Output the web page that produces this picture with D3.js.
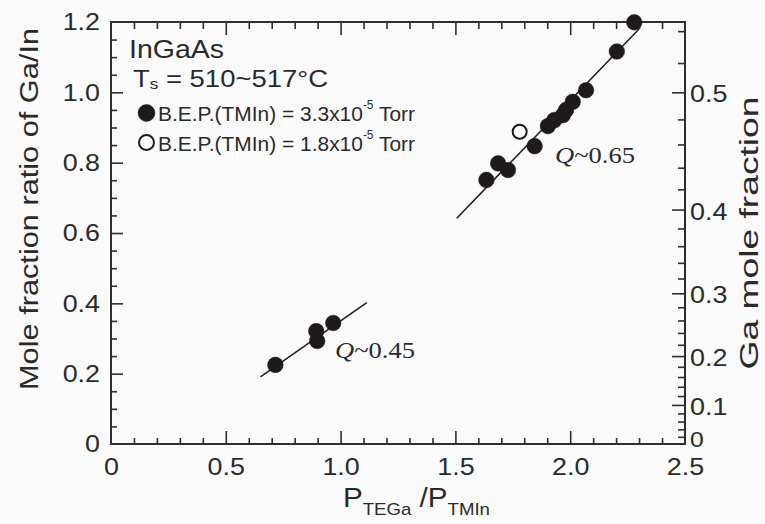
<!DOCTYPE html>
<html><head><meta charset="utf-8">
<script src="https://cdn.jsdelivr.net/npm/d3@7"></script>
<style>
html,body{margin:0;padding:0;background:#fafafa;}
svg{display:block;}
</style></head>
<body>
<svg id="c" width="765" height="524" font-family="Liberation Sans, Arial, sans-serif" fill="#2a2a2a"></svg>
<script>
// ---- data ----
const filledX = [0.716, 0.894, 0.898, 0.968, 1.635, 1.686, 1.729, 1.845, 1.903, 1.931, 1.968, 1.982, 2.011, 2.069, 2.203, 2.279];
const filledY = [0.225, 0.321, 0.293, 0.344, 0.751, 0.798, 0.779, 0.847, 0.904, 0.921, 0.935, 0.950, 0.973, 1.006, 1.116, 1.199];
const openX = [1.78];
const openY = [0.888];
const fitLowX = [0.651, 1.114];
const fitLowY = [0.191, 0.402];
const fitHighX = [1.506, 2.30];
const fitHighY = [0.642, 1.18];
const xTicks = [0, 0.5, 1.0, 1.5, 2.0, 2.5];
const xTickLabels = ["0", "0.5", "1.0", "1.5", "2.0", "2.5"];
const yTicks = [0, 0.2, 0.4, 0.6, 0.8, 1.0, 1.2];
const yTickLabels = ["0", "0.2", "0.4", "0.6", "0.8", "1.0", "1.2"];
const rTicks = [0, 0.1, 0.2, 0.3, 0.4, 0.5];
const rTickLabels = ["0", "0.1", "0.2", "0.3", "0.4", "0.5"];

// ---- layout ----
const svg = d3.select("#c");
const L = 111, R = 685, T = 22, B = 444;
const x = d3.scaleLinear().domain([0, 2.5]).range([L, R]);
const y = d3.scaleLinear().domain([0, 1.2]).range([B, T]);
// right axis: Ga mole fraction f = r/(1+r)  ->  r = f/(1-f)
const fracToY = f => y(f / (1 - f));
const rightScale = Object.assign(v => fracToY(v), {
  range: () => [B, T], domain: () => [0, 0.545], copy: function(){return this;}, ticks: () => rTicks
});

svg.append("rect").attr("width", 765).attr("height", 524).attr("fill", "#fafafa");

const stroke = "#2e2e2e";
const tickFont = 24;
function stretch(sel, k) {
  sel.each(function(){ const w = this.getComputedTextLength(); this.setAttribute("textLength", w * k); this.setAttribute("lengthAdjust", "spacingAndGlyphs"); });
}

// minor ticks
const xMinor = d3.range(1, 25).map(i => i / 10).filter(v => Math.abs(v * 2 - Math.round(v * 2)) > 1e-6);
const yMinor = d3.range(1, 24).map(i => i / 20).filter(v => Math.abs(v * 5 - Math.round(v * 5)) > 1e-6);
const rMinor = d3.range(1, 28).map(i => i / 50).filter(v => Math.abs(v * 10 - Math.round(v * 10)) > 1e-6);

function styleAxis(g) {
  g.select(".domain").remove();
  g.selectAll("line").attr("stroke", stroke).attr("stroke-width", 1.6);
  g.selectAll("text").attr("font-family", "Liberation Sans, Arial, sans-serif").attr("font-size", tickFont).attr("fill", "#2a2a2a");
}

// bottom
const gB = svg.append("g").attr("transform", `translate(0,${B})`)
  .call(d3.axisBottom(x).tickValues(xTicks).tickFormat((d, i) => xTickLabels[i]).tickSize(-13).tickPadding(14));
styleAxis(gB);
gB.selectAll(".tick").filter(d => d === 0 || d === 2.5).select("line").remove();
stretch(gB.selectAll("text"), 1.12);
const gBm = svg.append("g").attr("transform", `translate(0,${B})`)
  .call(d3.axisBottom(x).tickValues(xMinor).tickFormat("").tickSize(-6));
styleAxis(gBm);
// top
const gT = svg.append("g").attr("transform", `translate(0,${T})`)
  .call(d3.axisTop(x).tickValues(xTicks.slice(1, -1)).tickFormat("").tickSize(-13));
styleAxis(gT);
const gTm = svg.append("g").attr("transform", `translate(0,${T})`)
  .call(d3.axisTop(x).tickValues(xMinor).tickFormat("").tickSize(-7));
styleAxis(gTm);
// left
const gL = svg.append("g").attr("transform", `translate(${L},0)`)
  .call(d3.axisLeft(y).tickValues(yTicks).tickFormat((d, i) => yTickLabels[i]).tickSize(-12).tickPadding(11));
styleAxis(gL);
gL.selectAll(".tick").filter(d => d === 0 || d === 1.2).select("line").remove();
stretch(gL.selectAll("text"), 1.12);
const gLm = svg.append("g").attr("transform", `translate(${L},0)`)
  .call(d3.axisLeft(y).tickValues(yMinor).tickFormat("").tickSize(-6));
styleAxis(gLm);
// right (Ga mole fraction)
const gR = svg.append("g").attr("transform", `translate(${R},0)`)
  .call(d3.axisRight(rightScale).tickValues(rTicks).tickFormat((d, i) => rTickLabels[i]).tickSize(-13).tickPadding(5));
styleAxis(gR);
gR.selectAll(".tick").filter(d => d === 0).select("line").remove();
gR.selectAll("text").attr("dy", "0.4em");
gR.selectAll(".tick").filter(d => d === 0).select("text").attr("dy", "0.1em").attr("font-size", 22);
stretch(gR.selectAll("text"), 1.12);
const gRm = svg.append("g").attr("transform", `translate(${R},0)`)
  .call(d3.axisRight(rightScale).tickValues(rMinor).tickFormat("").tickSize(-7));
styleAxis(gRm);

// frame
svg.append("rect").attr("x", L).attr("y", T).attr("width", R - L).attr("height", B - T)
  .attr("fill", "none").attr("stroke", stroke).attr("stroke-width", 2);

// fit lines
const line = d3.line().x(d => x(d[0])).y(d => y(d[1]));
[[fitLowX, fitLowY], [fitHighX, fitHighY]].forEach(([xs, ys]) => {
  svg.append("path").datum(xs.map((v, i) => [v, ys[i]])).attr("d", line)
    .attr("fill", "none").attr("stroke", "#222").attr("stroke-width", 1.6);
});

// points
svg.append("g").selectAll("circle").data(filledX.map((v, i) => [v, filledY[i]])).join("circle")
  .attr("cx", d => x(d[0])).attr("cy", d => y(d[1])).attr("r", 7.8)
  .attr("fill", "#1e1a1a").attr("stroke", "#1e1a1a").attr("stroke-width", 0.5);
svg.append("g").selectAll("circle").data(openX.map((v, i) => [v, openY[i]])).join("circle")
  .attr("cx", d => x(d[0])).attr("cy", d => y(d[1])).attr("r", 7)
  .attr("fill", "#fafafa").attr("stroke", "#1e1a1a").attr("stroke-width", 2);

// Q labels
function qLabel(px, py, val) {
  const t = svg.append("text").attr("x", px).attr("y", py)
    .attr("font-family", "Liberation Serif, Times New Roman, serif").attr("font-size", 23).attr("fill", "#2a2a2a");
  t.append("tspan").attr("font-style", "italic").text("Q");
  t.append("tspan").text("~" + val);
  t.attr("textLength", 80).attr("lengthAdjust", "spacingAndGlyphs");
}
qLabel(555, 163, "0.65");
qLabel(335, 358, "0.45");

// legend block
svg.append("text").attr("x", 129).attr("y", 58).attr("font-size", 26).text("InGaAs")
  .attr("textLength", 95).attr("lengthAdjust", "spacingAndGlyphs");
const ts = svg.append("text").attr("x", 133).attr("y", 87).attr("font-size", 24);
ts.append("tspan").text("T");
ts.append("tspan").attr("font-size", 15).attr("dy", 2).text("s");
ts.append("tspan").attr("dy", -2).text(" = 510~517°C");
ts.attr("textLength", 195).attr("lengthAdjust", "spacingAndGlyphs");

function legendRow(cy, filled, val) {
  svg.append("circle").attr("cx", 146.5).attr("cy", cy).attr("r", filled ? 8.5 : 7.5)
    .attr("fill", filled ? "#1e1a1a" : "#fafafa").attr("stroke", "#1e1a1a").attr("stroke-width", filled ? 0.5 : 2);
  const t = svg.append("text").attr("x", 158).attr("y", cy + 8).attr("font-size", 21);
  t.append("tspan").text("B.E.P.(TMIn) = " + val + "x10");
  t.append("tspan").attr("font-size", 12).attr("dy", -12).text("-5");
  t.append("tspan").attr("dy", 12).text(" Torr");
  t.attr("textLength", 257).attr("lengthAdjust", "spacingAndGlyphs");
}
legendRow(113, true, "3.3");
legendRow(142.5, false, "1.8");

// axis titles
svg.append("text").attr("transform", "translate(38,209) rotate(-90)").attr("text-anchor", "middle")
  .attr("font-size", 26).text("Mole fraction ratio of Ga/In")
  .attr("textLength", 362).attr("lengthAdjust", "spacingAndGlyphs");
svg.append("text").attr("transform", "translate(758,233) rotate(-90)").attr("text-anchor", "middle")
  .attr("font-size", 25).text("Ga mole fraction")
  .attr("textLength", 273).attr("lengthAdjust", "spacingAndGlyphs");

const xt = svg.append("text").attr("x", 343).attr("y", 507).attr("font-size", 27);
xt.append("tspan").text("P");
xt.append("tspan").attr("font-size", 17).attr("dy", 8).text("TEGa");
xt.append("tspan").attr("dy", -8).text(" /P");
xt.append("tspan").attr("font-size", 17).attr("dy", 8).text("TMIn");
xt.attr("textLength", 147).attr("lengthAdjust", "spacingAndGlyphs");
</script>
</body></html>
